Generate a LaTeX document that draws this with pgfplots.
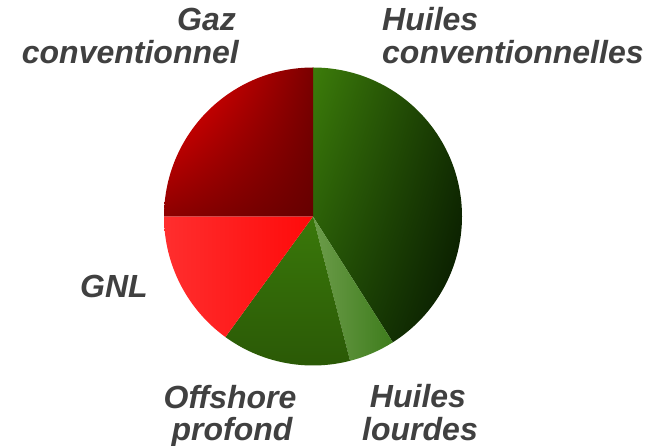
\documentclass[border=0pt]{standalone}
\usepackage{pgfplots}
\pgfplotsset{compat=1.18}
\usepackage{pgfplotstable}
\usetikzlibrary{shadings}
\usepackage{fontspec}
\setmainfont{Liberation Sans}
\definecolor{lbl}{HTML}{404040}
\definecolor{hcUL}{RGB}{60,124,10}
\definecolor{hcUR}{RGB}{22,54,2}
\definecolor{hcLL}{RGB}{32,76,6}
\definecolor{hcLR}{RGB}{6,22,0}
\definecolor{hlL}{RGB}{108,156,74}
\definecolor{hlR}{RGB}{62,124,28}
\definecolor{opT}{RGB}{58,120,10}
\definecolor{opB}{RGB}{42,88,6}
\definecolor{gnlL}{RGB}{255,46,46}
\definecolor{gnlR}{RGB}{255,10,10}
\definecolor{gcUL}{RGB}{255,0,0}
\definecolor{gcUR}{RGB}{122,0,0}
\definecolor{gcLL}{RGB}{140,0,0}
\definecolor{gcLR}{RGB}{102,0,0}
\pgfplotstableread{
label value
HC 41
HL 5
OP 14
GNL 15
GC 25
}\pietable
\begin{document}
\begin{tikzpicture}
\pgfplotstablegetelem{0}{value}\of\pietable \pgfmathsetmacro\vA{\pgfplotsretval}
\pgfplotstablegetelem{1}{value}\of\pietable \pgfmathsetmacro\vB{\pgfplotsretval}
\pgfplotstablegetelem{2}{value}\of\pietable \pgfmathsetmacro\vC{\pgfplotsretval}
\pgfplotstablegetelem{3}{value}\of\pietable \pgfmathsetmacro\vD{\pgfplotsretval}
\pgfplotstablegetelem{4}{value}\of\pietable \pgfmathsetmacro\vE{\pgfplotsretval}
\pgfmathsetmacro\aO{90}
\pgfmathsetmacro\aA{\aO-3.6*\vA}
\pgfmathsetmacro\aB{\aA-3.6*\vB}
\pgfmathsetmacro\aC{\aB-3.6*\vC}
\pgfmathsetmacro\aD{\aC-3.6*\vD}
\pgfmathsetmacro\aE{\aD-3.6*\vE}
\def\R{149pt}
\begin{axis}[
  width=655pt, height=446pt, scale only axis,
  xmin=0, xmax=655, ymin=0, ymax=446,
  hide axis, clip=false,
]
\shade[upper left=hcUL, upper right=hcUR, lower left=hcLL, lower right=hcLR]
  (axis cs:313,229.5) -- ([shift={(\aO:\R)}]axis cs:313,229.5) arc[start angle=\aO, end angle=\aA, radius=\R] -- cycle;
\shade[left color=hlL, right color=hlR]
  (axis cs:313,229.5) -- ([shift={(\aA:\R)}]axis cs:313,229.5) arc[start angle=\aA, end angle=\aB, radius=\R] -- cycle;
\shade[top color=opT, bottom color=opB]
  (axis cs:313,229.5) -- ([shift={(\aB:\R)}]axis cs:313,229.5) arc[start angle=\aB, end angle=\aC, radius=\R] -- cycle;
\shade[left color=gnlL, right color=gnlR]
  (axis cs:313,229.5) -- ([shift={(\aC:\R)}]axis cs:313,229.5) arc[start angle=\aC, end angle=\aD, radius=\R] -- cycle;
\shade[upper left=gcUL, upper right=gcUR, lower left=gcLL, lower right=gcLR]
  (axis cs:313,229.5) -- ([shift={(\aD:\R)}]axis cs:313,229.5) arc[start angle=\aD, end angle=\aE, radius=\R] -- cycle;
\begin{scope}[every node/.style={inner sep=0pt, text=lbl, font=\fontsize{32}{33}\selectfont\bfseries\itshape}]
\node[anchor=base east] at (axis cs:236,415.3) {Gaz};
\node[anchor=base east] at (axis cs:239,382.7) {conventionnel};
\node[anchor=base west] at (axis cs:382,415.3) {Huiles};
\node[anchor=base west] at (axis cs:382,382) {conventionnelles};
\node[anchor=base west] at (axis cs:80,148) {GNL};
\node[anchor=base] at (axis cs:230,37) {Offshore};
\node[anchor=base] at (axis cs:232,5.3) {profond};
\node[anchor=base] at (axis cs:418,38) {Huiles};
\node[anchor=base] at (axis cs:420,5.3) {lourdes};
\end{scope}
\end{axis}
\pgfresetboundingbox
\path (current axis.south west) rectangle (current axis.north east);
\end{tikzpicture}
\end{document}
